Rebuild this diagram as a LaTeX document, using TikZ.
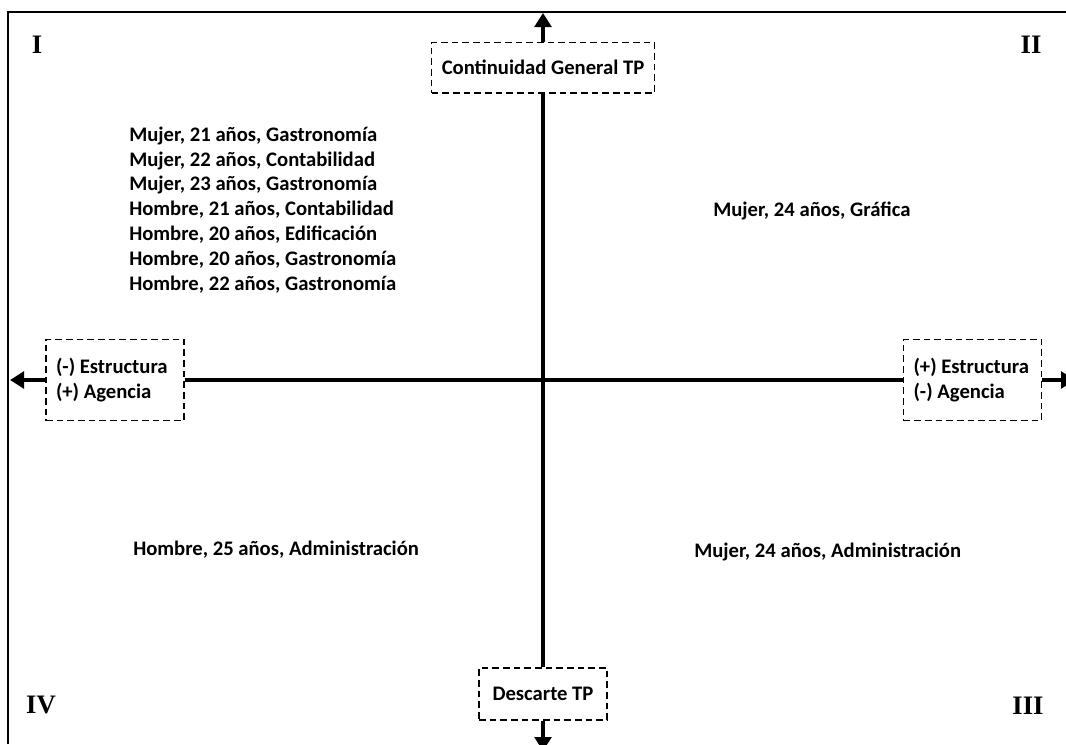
\documentclass[tikz,border=0pt]{standalone}
\usepackage{fontspec}
\setmainfont{Carlito}
\newfontfamily\romanos{Liberation Serif}
\usetikzlibrary{arrows.meta}

\tikzset{
  eje/.style={line width=3.2pt, >={Triangle[length=10.5pt,width=12.5pt]}},
  caja/.style={draw, line width=1pt, dash pattern=on 5pt off 3pt,
    font=\bfseries\fontsize{15.5}{18.6}\selectfont},
  cajalado/.style={caja, minimum width=103.5pt, minimum height=61pt,
    text width=88.5pt, inner xsep=7.5pt, align=flush left},
  dato/.style={font=\bfseries\fontsize{15.5}{18.6}\selectfont, inner sep=0pt, align=left},
  cuadrante/.style={font=\romanos\bfseries\fontsize{20}{22}\selectfont, inner sep=0pt}
}

\begin{document}
\begin{tikzpicture}[x=0.75pt,y=-0.75pt]
\useasboundingbox (0,0) rectangle (1066,744);

% marco
\draw[line width=1.2pt] (8,744) -- (8,12) -- (1066,12);

\node[caja, minimum width=167pt, minimum height=38pt] (cont) at (543,67.5) {Continuidad General TP};
\node[caja, minimum width=96pt, minimum height=39pt] (desc) at (543,694) {Descarte TP};
\node[cajalado] (izq) at (115,380) {(-) Estructura\\(+) Agencia};
\node[cajalado] (der) at (972.5,380) {(+) Estructura\\(-) Agencia};

\coordinate (norte) at (543,13);
\coordinate (sur) at (543,751);
\coordinate (oeste) at (10,380);
\coordinate (este) at (1075,380);

% ejes
\draw[eje,->] (cont) -- (norte);
\draw[eje] (cont) -- (desc);
\draw[eje,->] (desc) -- (sur);
\draw[eje,->] (izq) -- (oeste);
\draw[eje] (izq) -- (der);
\draw[eje,->] (der) -- (este);

% cuadrantes
\node[cuadrante] (q1) at (37,45) {I};
\node[cuadrante] (q2) at (1031,45) {II};
\node[cuadrante] (q3) at (1028,706) {III};
\node[cuadrante] (q4) at (41,705) {IV};

\node[dato, anchor=base west] (grupo) at (129,290) {Mujer, 21 años, Gastronomía\\Mujer, 22 años, Contabilidad\\Mujer, 23 años, Gastronomía\\Hombre, 21 años, Contabilidad\\Hombre, 20 años, Edificación\\Hombre, 20 años, Gastronomía\\Hombre, 22 años, Gastronomía};
\node[dato, anchor=base west] (grafica) at (713,216) {Mujer, 24 años, Gráfica};
\node[dato, anchor=base west] (hombre) at (133,555) {Hombre, 25 años, Administración};
\node[dato, anchor=base west] (admin) at (694,557) {Mujer, 24 años, Administración};

\end{tikzpicture}
\end{document}
